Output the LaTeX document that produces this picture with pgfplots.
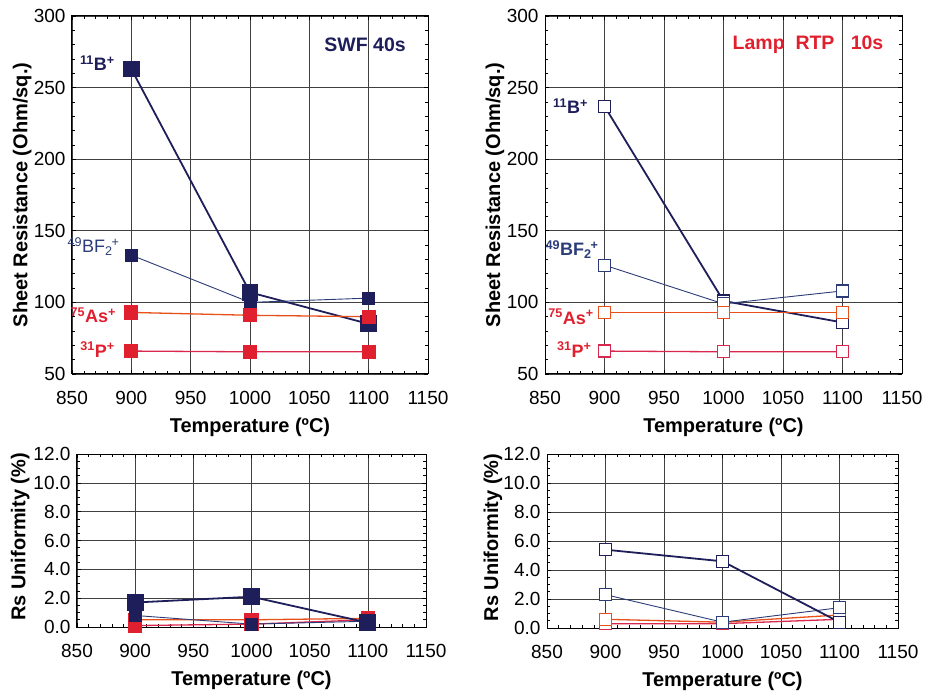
\documentclass[border=0pt]{standalone}
\usepackage{fontspec}
\setmainfont{Liberation Sans}
\usepackage{pgfplots}
\pgfplotsset{compat=1.18}
\definecolor{navy}{HTML}{1E1E5A}
\definecolor{navyL}{HTML}{2C3C78}
\definecolor{rred}{HTML}{E0202E}
\definecolor{orng}{HTML}{E8501A}
\definecolor{pinkr}{HTML}{D8284E}
\pgfplotsset{
  base/.style={
    scale only axis, anchor=south west, clip=false,
    xmin=850, xmax=1150, xtick={850,900,...,1150}, minor x tick num=4,
    grid=major, major grid style={black!75, line width=0.6pt},
    axis line style={black, line width=1pt},
    tick style={black, line width=0.6pt},
    tick label style={font=\fontsize{19}{19}\selectfont},
    xticklabel style={yshift=-14pt},
    yticklabel style={xshift=-3pt},
    /pgf/number format/assume math mode=true,
    /pgf/number format/set thousands separator={},
    label style={font=\bfseries\fontsize{20}{20}\selectfont},
    xlabel={Temperature (ºC)},
  },
  top/.style={base, height=358pt, ymin=50, ymax=300, ytick={50,100,...,300}, minor y tick num=4,
    ylabel={Sheet Resistance (Ohm/sq.)},
    xlabel style={at={(axis description cs:0.5,-0.148)}, anchor=center},
    ylabel style={at={(axis description cs:-0.14,0.5)}, anchor=center}},
  bot/.style={base, height=173pt, ymin=0, ymax=12, ytick={0,2,...,12}, minor y tick num=3,
    yticklabel style={/pgf/number format/.cd, fixed, fixed zerofill, precision=1},
    ylabel={Rs Uniformity (\%)},
    xlabel style={at={(axis description cs:0.5,-0.306)}, anchor=center}},
  sB/.style={navy, line width=1.8pt, mark=square*, mark size=7.5pt, mark options={solid, fill=navy}},
  sBF/.style={navyL, line width=0.9pt, mark=square*, mark size=6pt, mark options={solid, fill=navy, draw=navy}},
  sAs/.style={orng, line width=1.3pt, mark=square*, mark size=6.5pt, mark options={solid, fill=rred, draw=rred}},
  sP/.style={pinkr, line width=1.3pt, mark=square*, mark size=6.5pt, mark options={solid, fill=rred, draw=rred}},
  oB/.style={navy, line width=1.8pt, mark=square*, mark size=6pt, mark options={solid, fill=white, line width=1.2pt}},
  oBF/.style={navyL, line width=0.9pt, mark=square*, mark size=6pt, mark options={solid, fill=white, draw=navyL, line width=1.2pt}},
  oAs/.style={orng, line width=1.3pt, mark=square*, mark size=6pt, mark options={solid, fill=white, draw=orng, line width=1.2pt}},
  oP/.style={pinkr, line width=1.3pt, mark=square*, mark size=6pt, mark options={solid, fill=white, draw=pinkr, line width=1.2pt}},
}
\newcommand{\lab}{\bfseries\fontsize{18}{18}\selectfont}
\begin{document}
\begin{tikzpicture}[x=1pt,y=1pt]
\path (0,0) rectangle (927,690);
% top-left
\begin{axis}[top, at={(72pt,316pt)}, width=356pt]
\addplot[sB] coordinates {(900,263) (1000,107) (1100,85)};
\addplot[sBF] coordinates {(900,133) (1000,100) (1100,103)};
\addplot[sAs] coordinates {(900,93) (1000,91) (1100,90)};
\addplot[sP] coordinates {(900,66) (1000,65.5) (1100,65.5)};
\node[navy, font=\bfseries\fontsize{19.5}{19.5}\selectfont] at (axis cs:1097,280) {SWF 40s};
\node[navy, anchor=east, font=\lab] at (axis cs:889,267) {\textsuperscript{11}B\textsuperscript{+}};
\node[navyL, anchor=east, font=\fontsize{18}{18}\selectfont] at (axis cs:893,139) {\textsuperscript{49}BF\textsubscript{2}\kern-1pt\textsuperscript{+}};
\node[rred, anchor=east, font=\lab] at (axis cs:890,91) {\textsuperscript{75}As\textsuperscript{+}};
\node[rred, anchor=east, font=\lab] at (axis cs:889,67) {\textsuperscript{31}P\textsuperscript{+}};
\end{axis}
% top-right
\begin{axis}[top, at={(545pt,316pt)}, width=357pt]
\addplot[oB] coordinates {(900,237) (1000,101) (1100,86)};
\addplot[oBF] coordinates {(900,126) (1000,99) (1100,108)};
\addplot[oAs] coordinates {(900,93) (1000,93) (1100,93)};
\addplot[oP] coordinates {(900,66) (1000,65.5) (1100,65.5)};
\node[rred, font=\bfseries\fontsize{19.5}{19.5}\selectfont] at (axis cs:1071,280) {Lamp\ \ RTP\ \ \ 10s};
\node[navy, anchor=east, font=\lab] at (axis cs:889,237) {\textsuperscript{11}B\textsuperscript{+}};
\node[navyL, anchor=east, font=\lab] at (axis cs:898,137) {\textsuperscript{49}BF\textsubscript{2}\kern-1pt\textsuperscript{+}};
\node[rred, anchor=east, font=\lab] at (axis cs:894,90) {\textsuperscript{75}As\textsuperscript{+}};
\node[rred, anchor=east, font=\lab] at (axis cs:892,67) {\textsuperscript{31}P\textsuperscript{+}};
\end{axis}
% bottom-left
\begin{axis}[bot, at={(77pt,63pt)}, width=349pt, ylabel style={at={(axis description cs:-0.163,0.52)}, anchor=center}]
\addplot[sP] coordinates {(900,0.1) (1000,0.2) (1100,0.5)};
\addplot[sAs] coordinates {(900,0.5) (1000,0.5) (1100,0.6)};
\addplot[sBF] coordinates {(900,0.8) (1000,0.2) (1100,0.4)};
\addplot[sB] coordinates {(900,1.7) (1000,2.1) (1100,0.3)};
\end{axis}
% bottom-right
\begin{axis}[bot, at={(547pt,62pt)}, width=351pt, height=174pt, ylabel style={at={(axis description cs:-0.154,0.52)}, anchor=center}]
\addplot[oP] coordinates {(900,0.3) (1000,0.3) (1100,0.6)};
\addplot[oAs] coordinates {(900,0.6) (1000,0.4) (1100,0.9)};
\addplot[oBF] coordinates {(900,2.3) (1000,0.4) (1100,1.4)};
\addplot[oB] coordinates {(900,5.4) (1000,4.6) (1100,0.4)};
\end{axis}
\end{tikzpicture}
\end{document}
